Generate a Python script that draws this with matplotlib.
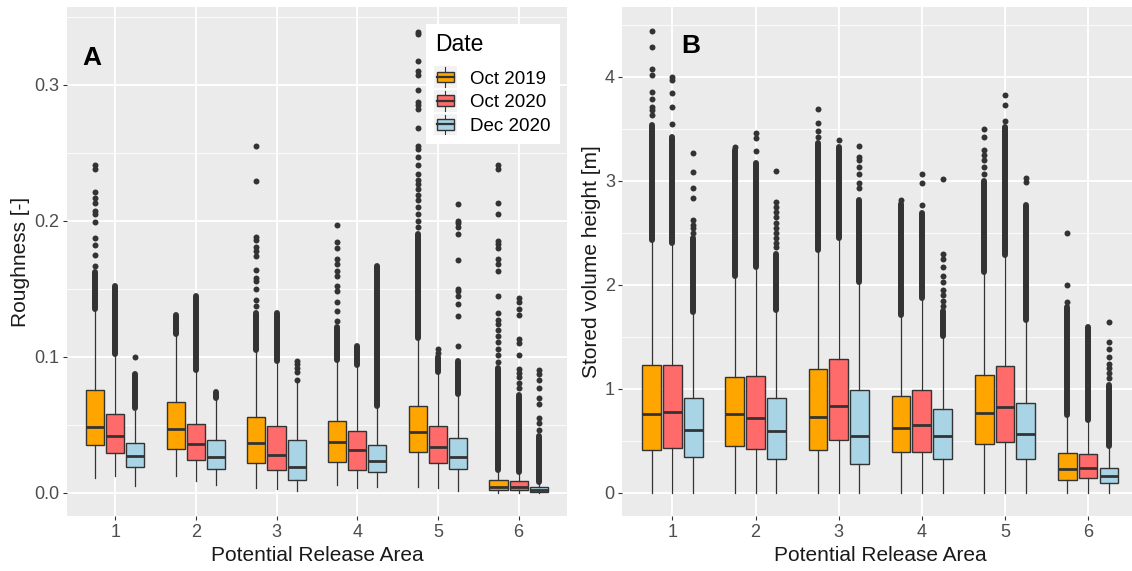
import numpy as np
import matplotlib
matplotlib.use("Agg")
import matplotlib.pyplot as plt
from matplotlib.patches import Patch, Rectangle
from matplotlib.lines import Line2D
from matplotlib.legend_handler import HandlerBase
from matplotlib.ticker import MultipleLocator

plt.rcParams['font.family'] = ['Liberation Sans', 'DejaVu Sans']

areas = [1, 2, 3, 4, 5, 6]
dates = ['Oct 2019', 'Oct 2020', 'Dec 2020']
colors = ['#FFA500', '#FF6A6A', '#A8D4E6']

# ---- panel A: roughness, rows = dates, columns = areas ----
rough_q1 = [[0.0355, 0.0324, 0.0218, 0.0227, 0.0303, 0.0022],
            [0.0294, 0.0238, 0.0167, 0.0168, 0.0222, 0.0022],
            [0.0190, 0.0176, 0.0098, 0.0156, 0.0174, 0.0005]]
rough_med = [[0.0485, 0.0470, 0.0368, 0.0374, 0.0444, 0.0042],
             [0.0420, 0.0358, 0.0275, 0.0315, 0.0339, 0.0046],
             [0.0270, 0.0265, 0.0190, 0.0237, 0.0262, 0.0022]]
rough_q3 = [[0.0755, 0.0667, 0.0556, 0.0527, 0.0640, 0.0095],
            [0.0583, 0.0505, 0.0490, 0.0456, 0.0490, 0.0088],
            [0.0365, 0.0387, 0.0387, 0.0352, 0.0400, 0.0042]]
rough_lo = [[0.011, 0.0127, 0.0037, 0.0059, 0.0042, 0.0],
            [0.0127, 0.0086, 0.003, 0.0034, 0.0034, 0.0],
            [0.005, 0.006, 0.0012, 0.0042, 0.0017, 0.0]]
rough_hi = [[0.135, 0.1164, 0.105, 0.0974, 0.1133, 0.0168],
            [0.1017, 0.0895, 0.0968, 0.0938, 0.089, 0.0144],
            [0.060, 0.0686, 0.082, 0.063, 0.073, 0.007]]
# ranges where outlier dots overlap into a solid column
rough_dense = [[(0.135, 0.162), (0.117, 0.131), (0.105, 0.132), (0.098, 0.122), (0.114, 0.19), (0.017, 0.092)],
               [(0.102, 0.152), (0.09, 0.145), (0.097, 0.132), (0.094, 0.108), (0.089, 0.1), (0.015, 0.072)],
               [(0.062, 0.087), (0.07, 0.074), None, (0.064, 0.167), (0.073, 0.097), (0.008, 0.042)]]
rough_out = [[[0.167, 0.175, 0.182, 0.187, 0.199, 0.205, 0.207, 0.213, 0.217, 0.221, 0.238, 0.241],
              [],
              [0.137, 0.142, 0.15, 0.156, 0.158, 0.164, 0.174, 0.178, 0.181, 0.186, 0.188, 0.229, 0.255],
              [0.126, 0.134, 0.14, 0.148, 0.152, 0.159, 0.163, 0.168, 0.172, 0.18, 0.184, 0.197],
              [0.195, 0.2, 0.205, 0.21, 0.215, 0.219, 0.223, 0.227, 0.23, 0.234, 0.241, 0.247,
               0.253, 0.255, 0.268, 0.282, 0.285, 0.287, 0.296, 0.307, 0.31, 0.317, 0.337, 0.339],
              [0.096, 0.101, 0.106, 0.111, 0.115, 0.12, 0.124, 0.127, 0.132, 0.145, 0.163,
               0.168, 0.172, 0.18, 0.183, 0.185, 0.205, 0.213, 0.238, 0.241]],
             [[], [], [], [], [0.103, 0.106],
              [0.077, 0.081, 0.085, 0.088, 0.091, 0.101, 0.11, 0.113, 0.131, 0.135, 0.14, 0.143]],
             [[0.1], [], [0.083, 0.089, 0.092, 0.095, 0.097], [],
              [0.108, 0.13, 0.139, 0.145, 0.148, 0.15, 0.171, 0.19, 0.195, 0.198, 0.2, 0.212],
              [0.046, 0.051, 0.055, 0.065, 0.07, 0.077, 0.083, 0.087, 0.09]]]

# ---- panel B: stored volume height [m] ----
vol_q1 = [[0.417, 0.452, 0.417, 0.391, 0.474, 0.128],
          [0.436, 0.420, 0.513, 0.391, 0.487, 0.147],
          [0.346, 0.324, 0.282, 0.330, 0.324, 0.099]]
vol_med = [[0.756, 0.756, 0.731, 0.628, 0.769, 0.234],
           [0.776, 0.724, 0.840, 0.657, 0.827, 0.244],
           [0.603, 0.593, 0.548, 0.548, 0.570, 0.163]]
vol_q3 = [[1.228, 1.115, 1.189, 0.929, 1.138, 0.385],
          [1.228, 1.125, 1.292, 0.994, 1.218, 0.378],
          [0.913, 0.913, 0.987, 0.804, 0.869, 0.240]]
vol_lo = [[0, 0, 0, 0, 0, 0],
          [0, 0, 0, 0, 0, 0],
          [0, 0, 0, 0, 0, 0]]
vol_hi = [[2.43, 2.083, 2.333, 1.708, 2.125, 0.747],
          [2.40, 2.17, 2.455, 1.87, 2.285, 0.705],
          [1.74, 1.756, 2.03, 1.506, 1.66, 0.442]]
vol_dense = [[(2.43, 3.54), (2.09, 3.3), (2.333, 3.36), (1.708, 2.78), (2.125, 3.0), (0.747, 1.79)],
             [(2.40, 3.42), (2.17, 3.17), (2.455, 3.33), (1.87, 2.69), (2.285, 3.52), (0.705, 1.6)],
             [(1.74, 2.45), (1.756, 2.3), (2.03, 2.82), (1.506, 1.75), (1.66, 2.77), (0.45, 1.04)]]
vol_out = [[[3.63, 3.68, 3.71, 3.79, 3.86, 4.02, 4.08, 4.29, 4.44],
            [3.33],
            [3.42, 3.48, 3.56, 3.69],
            [2.82],
            [3.07, 3.13, 3.2, 3.25, 3.3, 3.42, 3.5],
            [1.84, 2.0, 2.5]],
           [[3.55, 3.71, 3.85, 3.97, 4.0],
            [3.29, 3.41, 3.46],
            [3.39],
            [2.77, 2.98, 3.07],
            [3.58, 3.73, 3.83],
            []],
           [[2.5, 2.55, 2.58, 2.62, 2.84, 2.93, 3.09, 3.27],
            [2.36, 2.4, 2.45, 2.5, 2.55, 2.6, 2.65, 2.7, 2.75, 2.8, 3.1],
            [2.93, 2.98, 3.07, 3.13, 3.2, 3.23, 3.34],
            [1.8, 1.85, 1.9, 1.95, 2.03, 2.09, 2.17, 2.25, 2.3, 3.02],
            [2.99, 3.03],
            [1.1, 1.15, 1.2, 1.24, 1.31, 1.38, 1.45, 1.64]]]

dodge = [-0.25, 0.0, 0.25]
dark = '#333333'
dot = 4.3


def draw_boxes(ax, q1, med, q3, lo, hi, dense, out):
    for d in range(3):
        stats = []
        for i in range(len(areas)):
            stats.append(dict(q1=q1[d][i], med=med[d][i], q3=q3[d][i],
                              whislo=lo[d][i], whishi=hi[d][i], fliers=out[d][i]))
        pos = np.array(areas) + dodge[d]
        ax.bxp(stats, positions=pos, widths=0.225, patch_artist=True,
               showcaps=False, showfliers=True, manage_ticks=False,
               boxprops=dict(facecolor=colors[d], edgecolor=dark, lw=1.0),
               medianprops=dict(color=dark, lw=2.0, solid_capstyle='butt'),
               whiskerprops=dict(color=dark, lw=0.9),
               flierprops=dict(marker='o', markerfacecolor=dark,
                               markeredgecolor='none', markersize=dot))
        for i, band in enumerate(dense[d]):
            if band is None:
                continue
            ax.plot([pos[i], pos[i]], band, color=dark, lw=dot,
                    solid_capstyle='round', zorder=1)


def style(ax, ylim, ymaj, ylabel):
    ax.set_facecolor('#EBEBEB')
    for s in ax.spines.values():
        s.set_visible(False)
    ax.set_xlim(0.4, 6.6)
    ax.set_ylim(*ylim)
    ax.set_xticks(areas)
    ax.set_xticklabels([str(a) for a in areas])
    ax.yaxis.set_major_locator(MultipleLocator(ymaj))
    ax.yaxis.set_minor_locator(MultipleLocator(ymaj / 2))
    ax.set_axisbelow(True)
    ax.grid(which='major', color='white', lw=1.3)
    ax.grid(which='minor', axis='y', color='white', lw=0.6)
    ax.tick_params(which='major', length=3, width=0.8, color=dark,
                   labelsize=13, labelcolor='#4D4D4D', pad=2.5)
    ax.tick_params(which='minor', length=0)
    ax.set_xlabel('Potential Release Area', fontsize=15, color='#1A1A1A', labelpad=4)
    ax.set_ylabel(ylabel, fontsize=15, color='#1A1A1A', labelpad=3)


class BoxKey(HandlerBase):
    def create_artists(self, legend, orig_handle, xdescent, ydescent,
                       width, height, fontsize, trans):
        x, y = -xdescent, -ydescent
        gap = 0.13 * fontsize
        bg = Rectangle((x - 1, y - gap), width + 2, height + 2 * gap,
                       facecolor='#F2F2F2', edgecolor='none', transform=trans)
        wh = Line2D([x + width / 2] * 2, [y - 1, y + height + 1], color=dark, lw=0.8,
                    transform=trans)
        box = Rectangle((x + 0.08 * width, y + 0.18 * height), 0.84 * width, 0.64 * height,
                        facecolor=orig_handle.get_facecolor(), edgecolor=dark,
                        lw=1.0, transform=trans)
        md = Line2D([x + 0.08 * width, x + 0.92 * width], [y + height / 2] * 2,
                    color=dark, lw=1.6, transform=trans)
        return [bg, wh, box, md]


fig = plt.figure(figsize=(11.32, 5.71), dpi=100)
fig.patch.set_facecolor('white')
axA = fig.add_axes([0.0590, 0.0963, 0.4419, 0.8914])
axB = fig.add_axes([0.5499, 0.0963, 0.4554, 0.8914])

draw_boxes(axA, rough_q1, rough_med, rough_q3, rough_lo, rough_hi, rough_dense, rough_out)
draw_boxes(axB, vol_q1, vol_med, vol_q3, vol_lo, vol_hi, vol_dense, vol_out)
style(axA, (-0.017, 0.357), 0.1, 'Roughness [-]')
style(axB, (-0.2225, 4.6725), 1, 'Stored volume height [m]')

axA.text(0.051, 0.9, 'A', transform=axA.transAxes, fontsize=19,
         fontweight='bold', ha='center', va='center')
axB.text(0.133, 0.924, 'B', transform=axB.transAxes, fontsize=19,
         fontweight='bold', ha='center', va='center')

handles = [Patch(facecolor=c) for c in colors]
leg = axA.legend(handles, dates, handler_map={Patch: BoxKey()},
                 title='Date', loc='upper right', bbox_to_anchor=(0.985, 0.967),
                 borderaxespad=0, fontsize=13.5, title_fontsize=16.5,
                 handlelength=1.1, handleheight=1.0, labelspacing=0.26,
                 handletextpad=0.75, borderpad=0.5, frameon=True,
                 fancybox=False, alignment='left')
leg._legend_box.sep = 9
leg.get_frame().set_facecolor('white')
leg.get_frame().set_edgecolor('none')
leg.get_frame().set_alpha(1)

plt.savefig('out.png', dpi=100)
